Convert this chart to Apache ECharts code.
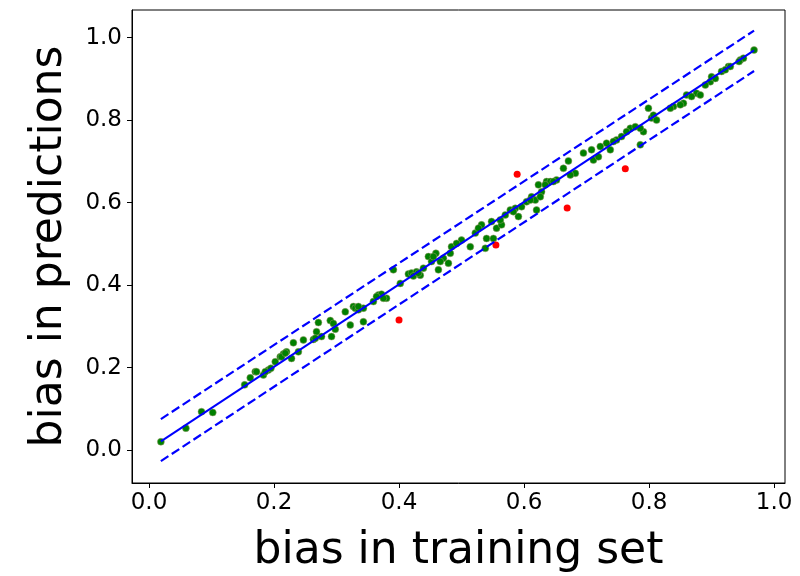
<!DOCTYPE html>
<html>
<head>
<meta charset="utf-8">
<script src="https://cdn.jsdelivr.net/npm/echarts@6/dist/echarts.min.js"></script>
<style>html,body{margin:0;padding:0;background:#fff}#c{width:800px;height:576px}</style>
</head>
<body>
<div id="c"></div>
<script>
// Inliers (green): [bias in training set, bias in predictions]
const inliers = [
  [0.019,0.020],[0.059,0.053],[0.084,0.093],[0.102,0.091],[0.153,0.158],[0.162,0.175],[0.170,0.190],
  [0.172,0.190],[0.183,0.182],[0.191,0.194],[0.195,0.198],[0.202,0.214],[0.210,0.226],[0.215,0.233],
  [0.220,0.238],[0.228,0.222],[0.231,0.260],[0.239,0.238],[0.247,0.267],[0.263,0.268],[0.268,0.287],
  [0.271,0.309],[0.276,0.275],[0.290,0.314],[0.292,0.275],[0.295,0.307],[0.298,0.293],[0.314,0.335],
  [0.322,0.303],[0.327,0.348],[0.330,0.344],[0.335,0.340],[0.343,0.344],[0.343,0.311],[0.359,0.360],
  [0.367,0.376],[0.372,0.378],[0.380,0.368],[0.391,0.437],[0.402,0.404],[0.415,0.427],[0.420,0.429],
  [0.428,0.432],[0.434,0.424],[0.439,0.441],[0.447,0.469],[0.452,0.457],[0.459,0.477],[0.463,0.437],
  [0.471,0.465],[0.479,0.453],[0.484,0.493],[0.482,0.477],[0.500,0.509],[0.514,0.493],[0.522,0.526],
  [0.532,0.546],[0.540,0.513],[0.548,0.554],[0.551,0.513],[0.556,0.538],[0.564,0.546],[0.570,0.570],
  [0.578,0.582],[0.586,0.586],[0.591,0.566],[0.596,0.590],[0.604,0.602],[0.612,0.614],[0.618,0.606],
  [0.620,0.582],[0.623,0.643],[0.628,0.626],[0.636,0.651],[0.642,0.651],[0.538,0.489],[0.652,0.655],
  [0.663,0.683],[0.671,0.701],[0.682,0.671],[0.708,0.728],[0.711,0.703],[0.719,0.711],[0.732,0.744],
  [0.738,0.728],[0.748,0.752],[0.756,0.760],[0.770,0.780],[0.778,0.784],[0.786,0.740],[0.791,0.772],
  [0.799,0.829],[0.804,0.805],[0.807,0.812],[0.812,0.800],[0.839,0.833],[0.855,0.841],[0.860,0.861],
  [0.876,0.865],[0.882,0.861],[0.898,0.893],[0.900,0.905],[0.916,0.918],[0.927,0.930],[0.946,0.946],
  [0.951,0.950],[0.968,0.970],
  [0.834,0.829],[0.850,0.837],[0.868,0.857],[0.890,0.885],[0.906,0.901],[0.922,0.922],[0.930,0.930],
  [0.944,0.942],[0.695,0.720],[0.722,0.736],[0.743,0.748],[0.764,0.772],[0.786,0.780],[0.647,0.651],
  [0.674,0.667],[0.527,0.538],[0.562,0.558],[0.583,0.578],[0.610,0.606],[0.626,0.614],[0.634,0.643],
  [0.492,0.501],[0.423,0.422],[0.431,0.429],[0.455,0.469],[0.466,0.457],[0.335,0.348],[0.364,0.372],
  [0.375,0.368],[0.212,0.226],[0.218,0.235],[0.266,0.271],[0.186,0.190]
];
// Outliers (red)
const outliers = [[0.400,0.315],[0.555,0.497],[0.589,0.669],[0.669,0.587],[0.762,0.682]];
// Fit line and band
const fitLine = [[0.019,0.021],[0.968,0.969]];
const upperLine = [[0.019,0.075],[0.968,1.017]];
const lowerLine = [[0.019,-0.027],[0.968,0.919]];
const xTicks = [0.0,0.2,0.4,0.6,0.8,1.0];
const yTicks = [0.0,0.2,0.4,0.6,0.8,1.0];

const chart = echarts.init(document.getElementById('c'), null, {renderer:'canvas'});
const axisCommon = {
  axisLine:{show:true,onZero:false,lineStyle:{color:'#000',width:1}},
  axisTick:{show:true,length:5,lineStyle:{color:'#000',width:1}},
  splitLine:{show:false},
  nameLocation:'middle',
  nameTextStyle:{fontFamily:'DejaVu Sans',fontSize:44,color:'#000'}
};
chart.setOption({
  animation:false,
  backgroundColor:'#fff',
  grid:{left:132,right:15,top:10,bottom:93,show:true,borderColor:'#000',borderWidth:1,containLabel:false,outerBoundsMode:'none'},
  xAxis:Object.assign({},axisCommon,{
    type:'value',min:-0.0272,max:1.0175,name:'bias in training set',nameGap:47,
    axisTick:Object.assign({},axisCommon.axisTick,{customValues:xTicks}),
    axisLabel:{customValues:xTicks,formatter:v=>v.toFixed(1),fontFamily:'DejaVu Sans',fontSize:23,color:'#000',margin:9}
  }),
  yAxis:Object.assign({},axisCommon,{
    type:'value',min:-0.08,max:1.067,name:'bias in predictions',nameGap:60,
    axisTick:Object.assign({},axisCommon.axisTick,{customValues:yTicks}),
    axisLabel:{customValues:yTicks,formatter:v=>v.toFixed(1),fontFamily:'DejaVu Sans',fontSize:23,color:'#000',margin:10}
  }),
  series:[
    {type:'scatter',data:inliers,symbolSize:7,itemStyle:{color:'#008000',borderColor:'#9a9a6a',borderWidth:0.5,opacity:1},z:2},
    {type:'scatter',data:outliers,symbolSize:7,itemStyle:{color:'#ff0000',opacity:1},z:2},
    {type:'line',data:fitLine,showSymbol:false,symbol:'none',lineStyle:{color:'#0000ff',width:2},z:3},
    {type:'line',data:upperLine,showSymbol:false,symbol:'none',lineStyle:{color:'#0000ff',width:2.2,type:[9,4]},z:3},
    {type:'line',data:lowerLine,showSymbol:false,symbol:'none',lineStyle:{color:'#0000ff',width:2.2,type:[9,4]},z:3}
  ]
});
</script>
</body>
</html>
